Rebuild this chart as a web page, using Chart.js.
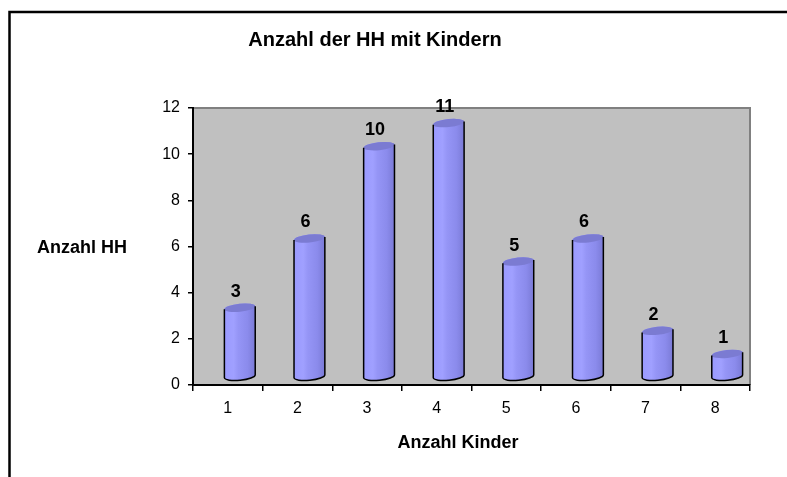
<!DOCTYPE html>
<html>
<head>
<meta charset="utf-8">
<script src="https://cdn.jsdelivr.net/npm/chart.js@4/dist/chart.umd.min.js"></script>
<style>
  html, body { margin: 0; padding: 0; background: #fff; }
  canvas { display: block; }
</style>
</head>
<body>
<canvas id="c" width="787" height="477"></canvas>
<script>
/* Anzahl der HH mit Kindern — Excel-style cylinder columns drawn over Chart.js bars. */
const kinder   = ["1", "2", "3", "4", "5", "6", "7", "8"];
const anzahlHH = [3, 6, 10, 11, 5, 6, 2, 1];
const yTicks   = [0, 2, 4, 6, 8, 10, 12];

const chartTitle = "Anzahl der HH mit Kindern";
const xTitle = "Anzahl Kinder";
const yTitle = "Anzahl HH";

const FONT = "'Liberation Sans', Arial, Helvetica, sans-serif";
Chart.defaults.font.family = FONT;
Chart.defaults.color = "#000";

// Frame, grey plot wall, cylinders, value labels, axis titles.
const excelLook = {
  id: "excelLook",
  beforeDraw(chart) {
    const { ctx, chartArea: a } = chart;
    ctx.save();
    ctx.strokeStyle = "#000";
    ctx.lineWidth = 2.5;
    ctx.strokeRect(9.5, 12, 900, 900);
    ctx.fillStyle = "#c0c0c0";
    ctx.fillRect(a.left, a.top, a.right - a.left, a.bottom - a.top);
    ctx.strokeStyle = "#808080";
    ctx.lineWidth = 2;
    ctx.beginPath();
    ctx.moveTo(a.left, a.top);
    ctx.lineTo(a.right, a.top);
    ctx.lineTo(a.right, a.bottom);
    ctx.stroke();
    ctx.restore();
  },
  afterDatasetsDraw(chart) {
    const ctx = chart.ctx;
    const meta = chart.getDatasetMeta(0);
    const values = chart.data.datasets[0].data;
    const rot = -0.1, cosR = Math.cos(rot), sinR = Math.sin(rot);
    ctx.save();
    meta.data.forEach((bar, i) => {
      const cx = bar.x + 12;
      const rx = bar.width / 2, ry = 4;
      const top = bar.y - 8, bot = bar.base - 8;
      const pt = (cy, t) => [cx + rx * Math.cos(t) * cosR - ry * Math.sin(t) * sinR,
                             cy + rx * Math.cos(t) * sinR + ry * Math.sin(t) * cosR];

      const g = ctx.createLinearGradient(cx - rx, 0, cx + rx, 0);
      g.addColorStop(0, "#9a9aff");
      g.addColorStop(0.3, "#a0a0ff");
      g.addColorStop(0.45, "#9595f6");
      g.addColorStop(0.75, "#8b8bec");
      g.addColorStop(1, "#7a7ad6");

      ctx.beginPath();
      ctx.ellipse(cx, bot, rx, ry, rot, 0, Math.PI, false);
      ctx.ellipse(cx, top, rx, ry, rot, Math.PI, 2 * Math.PI, false);
      ctx.closePath();
      ctx.fillStyle = g;
      ctx.fill();

      ctx.beginPath();
      ctx.ellipse(cx, top, rx, ry, rot, 0, 2 * Math.PI);
      ctx.fillStyle = "#7b7bd2";
      ctx.fill();

      const tl = pt(top, Math.PI), bl = pt(bot, Math.PI), tr = pt(top, 0);
      ctx.beginPath();
      ctx.moveTo(tl[0], tl[1]);
      ctx.lineTo(bl[0], bl[1]);
      ctx.ellipse(cx, bot, rx, ry, rot, Math.PI, 0, true);
      ctx.lineTo(tr[0], tr[1]);
      ctx.strokeStyle = "#000";
      ctx.lineWidth = 1.5;
      ctx.stroke();

      ctx.fillStyle = "#000";
      ctx.font = "bold 18px " + FONT;
      ctx.textAlign = "center";
      ctx.textBaseline = "middle";
      ctx.fillText(String(values[i]), bar.x + 8, bar.y - 24);
    });
    ctx.restore();
  },
  afterDraw(chart) {
    const ctx = chart.ctx;
    ctx.save();
    ctx.fillStyle = "#000";
    ctx.font = "bold 18px " + FONT;
    ctx.textAlign = "center";
    ctx.textBaseline = "middle";
    ctx.fillText(yTitle, 82, 248);
    ctx.fillText(xTitle, 458, 443);
    ctx.restore();
  }
};

new Chart(document.getElementById("c"), {
  type: "bar",
  data: {
    labels: kinder,
    datasets: [{
      label: yTitle,
      data: anzahlHH,
      backgroundColor: "rgba(0,0,0,0)",
      borderWidth: 0,
      categoryPercentage: 1,
      barPercentage: 0.445
    }]
  },
  options: {
    responsive: false,
    animation: false,
    devicePixelRatio: 1,
    layout: { padding: { left: 0, right: 37, top: 0, bottom: 0 } },
    plugins: {
      legend: { display: false },
      tooltip: { enabled: false },
      title: {
        display: true,
        text: chartTitle,
        color: "#000",
        font: { size: 20, weight: "bold" },
        padding: { top: 28, bottom: 56 }
      }
    },
    scales: {
      x: {
        afterFit: s => { s.height = 92; },
        border: { color: "#000", width: 2 },
        grid: { offset: true, drawOnChartArea: false, tickLength: 6, color: "#000", lineWidth: 1.5 },
        ticks: { font: { size: 16 }, color: "#000", padding: 8 }
      },
      y: {
        min: 0,
        max: 12,
        afterFit: s => { s.width = 193; },
        afterBuildTicks: s => { s.ticks = yTicks.map(v => ({ value: v })); },
        border: { color: "#000", width: 2 },
        grid: { drawOnChartArea: false, tickLength: 5, color: "#000", lineWidth: 1.5 },
        ticks: { font: { size: 16 }, color: "#000", padding: 8 }
      }
    }
  },
  plugins: [excelLook]
});
</script>
</body>
</html>
